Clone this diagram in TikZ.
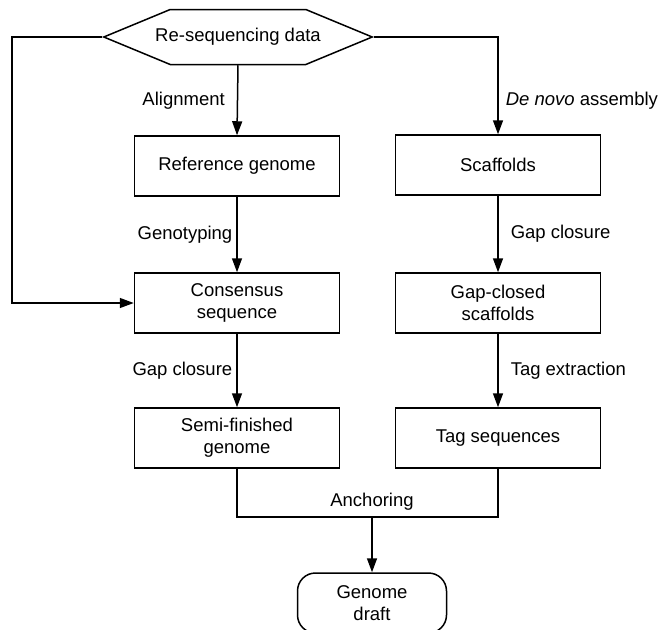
\documentclass[tikz,border=0pt]{standalone}
\usepackage{fontspec}
\setmainfont{Liberation Sans}
\usetikzlibrary{arrows.meta,shapes.symbols}

\begin{document}
\begin{tikzpicture}[x=1pt, y=-1pt, font=\fontsize{18.5}{22}\selectfont, line width=1.5pt,
  box/.style={draw, rectangle, minimum width=205pt, minimum height=60pt, align=center, inner sep=2pt},
  arr/.style={-{Triangle[length=14pt,width=10pt]}},
  lbl/.style={inner sep=4pt}]
  \useasboundingbox (0,0) rectangle (661,629);
  % start
  \node[draw, signal, signal to=west and east, signal pointer angle=45, minimum height=55pt, inner ysep=0pt, inner xsep=-15pt] (data) at (238,37) {Re-sequencing data};
  % alignment branch
  \node[box] (ref) at (237,166) {Reference genome};
  \node[box] (cons) at (237,303) {Consensus\\sequence};
  \node[box] (semi) at (237,438) {Semi-finished\\genome};
  % assembly branch
  \node[box] (scaf) at (498,165) {Scaffolds};
  \node[box] (gapc) at (498,303) {Gap-closed\\scaffolds};
  \node[box] (tags) at (498,438) {Tag sequences};
  % end
  \node[draw, rounded corners=18pt, minimum width=149pt, minimum height=60pt, align=center] (draft) at (372,603) {Genome\\draft};
  \coordinate (lft) at (12,37);
  \coordinate (jn) at (372,517);

  \draw[arr] (data.south) -- node[lbl, left, xshift=-8pt] {Alignment} (ref.north);
  \draw[arr] (data.east) -| node[lbl, right, pos=0.83, xshift=3pt] {\textit{De novo} assembly} (scaf.north);
  \draw[arr] (data.west) -- (lft) |- (cons.west);
  \draw[arr] (ref) -- node[lbl, left] {Genotyping} (cons);
  \draw[arr] (cons) -- node[lbl, left] {Gap closure} (semi);
  \draw[arr] (scaf) -- node[lbl, right, xshift=8pt] {Gap closure} (gapc);
  \draw[arr] (gapc) -- node[lbl, right, xshift=8pt] {Tag extraction} (tags);
  \draw (semi.south) |- (jn) node[above, inner sep=6pt] {Anchoring} -| (tags.south);
  \draw[arr] (jn) -- (draft.north);
\end{tikzpicture}
\end{document}
